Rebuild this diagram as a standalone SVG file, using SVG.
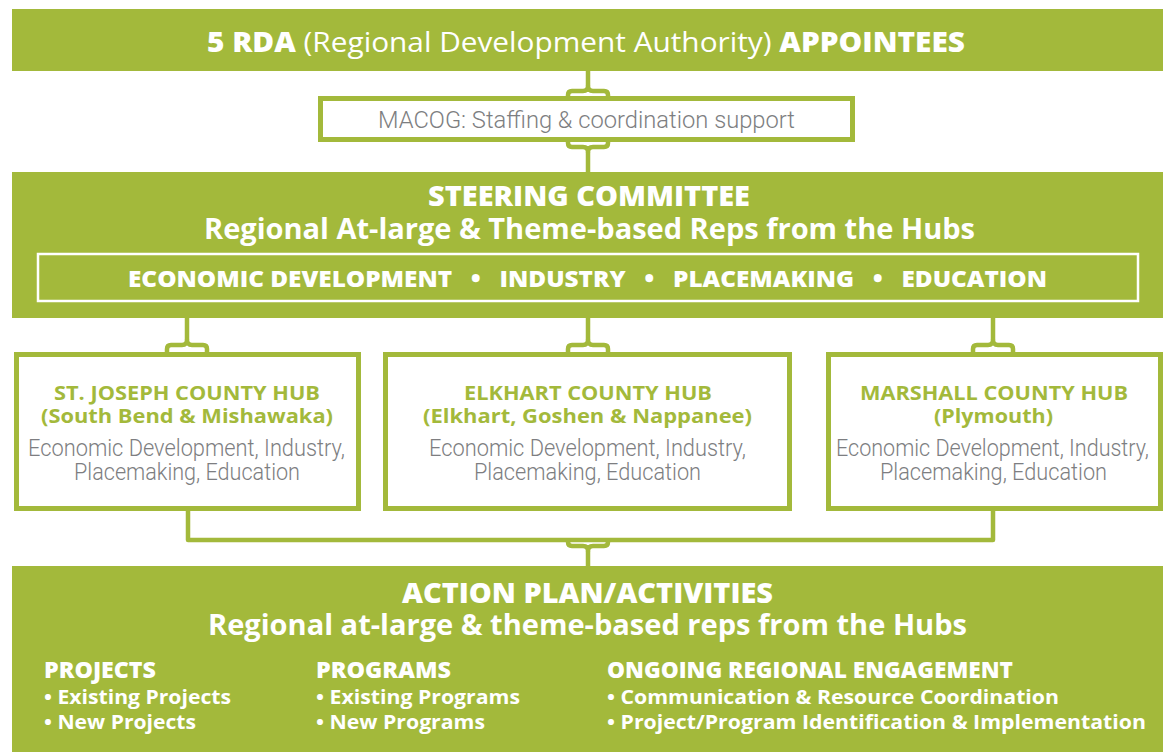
<svg xmlns="http://www.w3.org/2000/svg" width="1163" height="752" viewBox="0 0 1163 752">
<style>
.band{fill:#A3B93B}
.box{fill:#fff;stroke:#A3B93B;stroke-width:5}
.conn{fill:none;stroke:#A3B93B;stroke-width:4.5;stroke-linejoin:round}
.wb{font-family:"Open Sans","Noto Sans",sans-serif;font-weight:700;fill:#fff}
.wx{font-family:"Open Sans","Noto Sans",sans-serif;font-weight:800;fill:#fff}
.wr{font-family:"Open Sans","Noto Sans",sans-serif;font-weight:400;fill:#fff}
.gb{font-family:"Open Sans","Noto Sans",sans-serif;font-weight:700;fill:#A3B93B}
.gr{font-family:Roboto,"Liberation Sans",sans-serif;font-weight:300;fill:#7d7e81}
.c{text-anchor:middle}
</style>
<rect width="1163" height="752" fill="#fff"/>

<g id="connectors">
  <path class="conn" d="M588,71 V86"/>
  <path class="conn" d="M568,99 V95 Q568,91 572,91 H583 Q588,91 588,86 Q588,91 593,91 H604 Q608,91 608,95 V99"/>
  <path class="conn" d="M568,140 V143 Q568,147 572,147 H583 Q588,147 588,152 Q588,147 593,147 H604 Q608,147 608,143 V140"/>
  <path class="conn" d="M588,152 V173"/>
  <path class="conn" d="M187,317 V340"/>
  <path class="conn" d="M167,355 V349 Q167,345 171,345 H182 Q187,345 187,340 Q187,345 192,345 H203 Q207,345 207,349 V355"/>
  <path class="conn" d="M588,317 V340"/>
  <path class="conn" d="M568,355 V349 Q568,345 572,345 H583 Q588,345 588,340 Q588,345 593,345 H604 Q608,345 608,349 V355"/>
  <path class="conn" d="M993,317 V340"/>
  <path class="conn" d="M973,355 V349 Q973,345 977,345 H988 Q993,345 993,340 Q993,345 998,345 H1009 Q1013,345 1013,349 V355"/>
  <path class="conn" d="M188,509 V540 H993 V509"/>
  <path class="conn" d="M568,540 V542 Q568,546 572,546 H583 Q588,546 588,551 Q588,546 593,546 H604 Q608,546 608,542 V540"/>
  <path class="conn" d="M588,551 V567"/>
</g>

<g id="rda">
  <rect class="band" x="12" y="9" width="1151" height="62"/>
  <text class="c" x="586" y="52" font-size="28" textLength="758" lengthAdjust="spacingAndGlyphs"><tspan class="wx">5 RDA</tspan><tspan class="wr"> (Regional Development Authority) </tspan><tspan class="wx">APPOINTEES</tspan></text>
</g>

<g id="macog">
  <rect class="box" x="320.5" y="98.5" width="532" height="41"/>
  <text class="gr c" x="586.5" y="128" font-size="24" textLength="417" lengthAdjust="spacingAndGlyphs">MACOG: Staffing &amp; coordination support</text>
</g>

<g id="steering">
  <rect class="band" x="12" y="172" width="1151" height="146"/>
  <text class="wx c" x="589" y="206" font-size="28" textLength="322" lengthAdjust="spacingAndGlyphs">STEERING COMMITTEE</text>
  <text class="wb c" x="589.5" y="239" font-size="28" textLength="771" lengthAdjust="spacingAndGlyphs">Regional At-large &amp; Theme-based Reps from the Hubs</text>
  <rect x="38" y="254" width="1100" height="47" fill="none" stroke="#fff" stroke-width="2.5"/>
  <text class="wx c" x="587.5" y="287" font-size="23" textLength="919" lengthAdjust="spacingAndGlyphs" xml:space="preserve">ECONOMIC DEVELOPMENT   •   INDUSTRY   •   PLACEMAKING   •   EDUCATION</text>
</g>

<g id="hub-stjoseph">
  <rect class="box" x="16.5" y="354.5" width="342" height="154"/>
  <text class="gb c" x="187" y="400" font-size="20" textLength="266" lengthAdjust="spacingAndGlyphs">ST. JOSEPH COUNTY HUB</text>
  <text class="gb c" x="187" y="423" font-size="20" textLength="292" lengthAdjust="spacingAndGlyphs">(South Bend &amp; Mishawaka)</text>
  <text class="gr c" x="186.5" y="456" font-size="24" textLength="317" lengthAdjust="spacingAndGlyphs">Economic Development, Industry,</text>
  <text class="gr c" x="187" y="480" font-size="24" textLength="226" lengthAdjust="spacingAndGlyphs">Placemaking, Education</text>
</g>

<g id="hub-elkhart">
  <rect class="box" x="385.5" y="354.5" width="404" height="154"/>
  <text class="gb c" x="588" y="400" font-size="20" textLength="248" lengthAdjust="spacingAndGlyphs">ELKHART COUNTY HUB</text>
  <text class="gb c" x="587.5" y="423" font-size="20" textLength="329" lengthAdjust="spacingAndGlyphs">(Elkhart, Goshen &amp; Nappanee)</text>
  <text class="gr c" x="587.5" y="456" font-size="24" textLength="317" lengthAdjust="spacingAndGlyphs">Economic Development, Industry,</text>
  <text class="gr c" x="587.5" y="480" font-size="24" textLength="227" lengthAdjust="spacingAndGlyphs">Placemaking, Education</text>
</g>

<g id="hub-marshall">
  <rect class="box" x="828.5" y="354.5" width="332" height="154"/>
  <text class="gb c" x="994" y="400" font-size="20" textLength="268" lengthAdjust="spacingAndGlyphs">MARSHALL COUNTY HUB</text>
  <text class="gb c" x="993.5" y="423" font-size="20" textLength="119" lengthAdjust="spacingAndGlyphs">(Plymouth)</text>
  <text class="gr c" x="992.5" y="456" font-size="24" textLength="313" lengthAdjust="spacingAndGlyphs">Economic Development, Industry,</text>
  <text class="gr c" x="993.5" y="480" font-size="24" textLength="227" lengthAdjust="spacingAndGlyphs">Placemaking, Education</text>
</g>

<g id="action-plan">
  <rect class="band" x="12" y="566" width="1151" height="186"/>
  <text class="wx c" x="587.5" y="603" font-size="28" textLength="371" lengthAdjust="spacingAndGlyphs">ACTION PLAN/ACTIVITIES</text>
  <text class="wb c" x="587.5" y="635" font-size="28" font-weight="600" textLength="759" lengthAdjust="spacingAndGlyphs">Regional at-large &amp; theme-based reps from the Hubs</text>
  <text class="wx" x="44" y="678" font-size="22" textLength="112" lengthAdjust="spacingAndGlyphs">PROJECTS</text>
  <text class="wb" x="44" y="704" font-size="20" textLength="187" lengthAdjust="spacingAndGlyphs">• Existing Projects</text>
  <text class="wb" x="44" y="729" font-size="20" textLength="152" lengthAdjust="spacingAndGlyphs">• New Projects</text>
  <text class="wx" x="316" y="678" font-size="22" textLength="135" lengthAdjust="spacingAndGlyphs">PROGRAMS</text>
  <text class="wb" x="316" y="704" font-size="20" textLength="204" lengthAdjust="spacingAndGlyphs">• Existing Programs</text>
  <text class="wb" x="316" y="729" font-size="20" textLength="169" lengthAdjust="spacingAndGlyphs">• New Programs</text>
  <text class="wx" x="607" y="678" font-size="22" textLength="406" lengthAdjust="spacingAndGlyphs">ONGOING REGIONAL ENGAGEMENT</text>
  <text class="wb" x="607" y="704" font-size="20" textLength="452" lengthAdjust="spacingAndGlyphs">• Communication &amp; Resource Coordination</text>
  <text class="wb" x="607" y="729" font-size="20" textLength="539" lengthAdjust="spacingAndGlyphs">• Project/Program Identification &amp; Implementation</text>
</g>
</svg>
